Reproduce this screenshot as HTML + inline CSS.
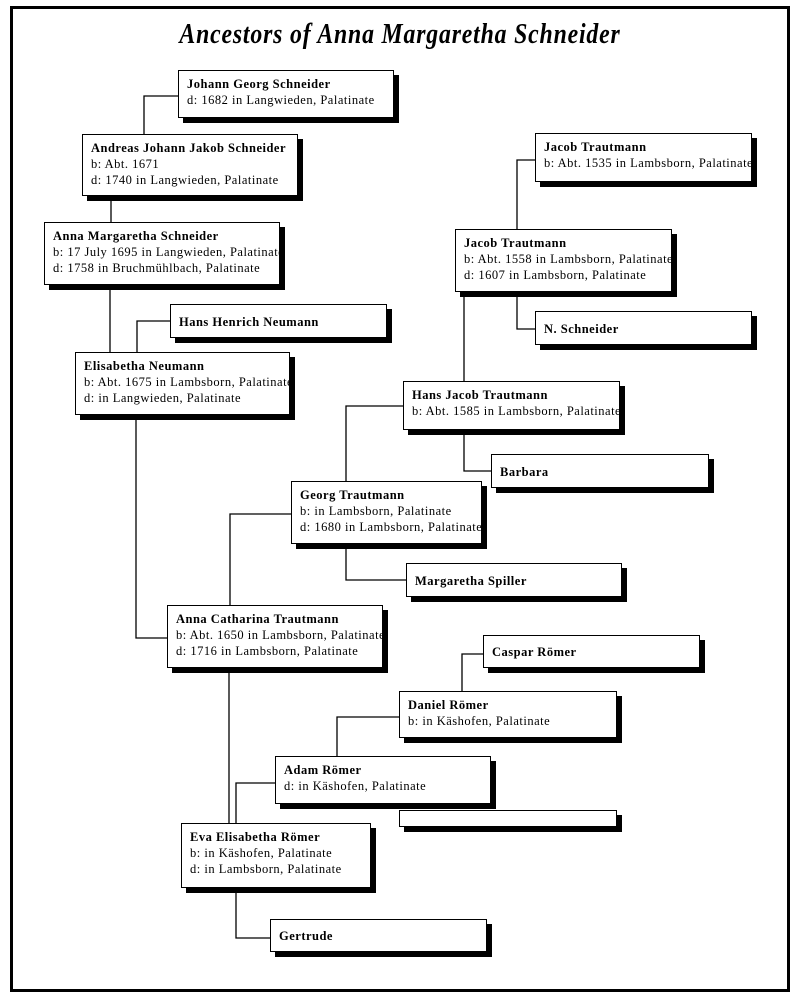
<!DOCTYPE html>
<html><head><meta charset="utf-8"><style>
body{margin:0;width:800px;height:996px;background:#fff;position:relative;overflow:hidden;font-family:"Liberation Serif",serif;}
.frame{position:absolute;left:10px;top:6px;width:774px;height:980px;border:3px solid #000;}
.t{position:absolute;left:0;width:800px;top:18px;text-align:center;font-style:italic;font-weight:bold;font-size:29px;letter-spacing:1px;transform:scaleX(0.82);transform-origin:400px 0;}
.b{position:absolute;border:1.5px solid #000;background:#fff;box-shadow:5px 5px 0 #000;overflow:hidden;box-sizing:border-box;padding:5px 0 0 8px;font-size:12.5px;line-height:16px;letter-spacing:0.5px;white-space:nowrap;}
.b b{letter-spacing:0.5px}
svg{position:absolute;left:0;top:0}
</style></head><body>
<div class="frame"></div>
<div class="t">Ancestors of Anna Margaretha Schneider</div>
<svg width="800" height="996"><g stroke="#000" stroke-width="1.3" fill="none">
<path d="M178 96H144V134"/>
<path d="M111 196V222"/>
<path d="M110 285V352"/>
<path d="M170 321H137V352"/>
<path d="M136 415V638H167"/>
<path d="M535 160H517V229"/>
<path d="M517 292V329H535"/>
<path d="M464 292V381"/>
<path d="M403 406H346V481"/>
<path d="M464 430V471H491"/>
<path d="M291 514H230V605"/>
<path d="M346 544V580H406"/>
<path d="M229 668V823"/>
<path d="M483 654H462V691"/>
<path d="M399 717H337V756"/>
<path d="M275 783H236V823"/>
<path d="M236 888V938H270"/>
</g></svg>
<div class="b" style="left:178px;top:70px;width:216px;height:48px"><b>Johann Georg Schneider</b><br>d: 1682 in Langwieden, Palatinate</div>
<div class="b" style="left:82px;top:134px;width:216px;height:62px"><b>Andreas Johann Jakob Schneider</b><br>b: Abt. 1671<br>d: 1740 in Langwieden, Palatinate</div>
<div class="b" style="left:44px;top:222px;width:236px;height:63px"><b>Anna Margaretha Schneider</b><br>b: 17 July 1695 in Langwieden, Palatinate<br>d: 1758 in Bruchmühlbach, Palatinate</div>
<div class="b" style="left:170px;top:304px;width:217px;height:34px;padding-top:9px"><b>Hans Henrich Neumann</b></div>
<div class="b" style="left:75px;top:352px;width:215px;height:63px"><b>Elisabetha Neumann</b><br>b: Abt. 1675 in Lambsborn, Palatinate<br>d: in Langwieden, Palatinate</div>
<div class="b" style="left:535px;top:133px;width:217px;height:49px"><b>Jacob Trautmann</b><br>b: Abt. 1535 in Lambsborn, Palatinate</div>
<div class="b" style="left:455px;top:229px;width:217px;height:63px"><b>Jacob Trautmann</b><br>b: Abt. 1558 in Lambsborn, Palatinate<br>d: 1607 in Lambsborn, Palatinate</div>
<div class="b" style="left:535px;top:311px;width:217px;height:34px;padding-top:9px"><b>N. Schneider</b></div>
<div class="b" style="left:403px;top:381px;width:217px;height:49px"><b>Hans Jacob Trautmann</b><br>b: Abt. 1585 in Lambsborn, Palatinate</div>
<div class="b" style="left:491px;top:454px;width:218px;height:34px;padding-top:9px"><b>Barbara</b></div>
<div class="b" style="left:291px;top:481px;width:191px;height:63px"><b>Georg Trautmann</b><br>b: in Lambsborn, Palatinate<br>d: 1680 in Lambsborn, Palatinate</div>
<div class="b" style="left:406px;top:563px;width:216px;height:34px;padding-top:9px"><b>Margaretha Spiller</b></div>
<div class="b" style="left:167px;top:605px;width:216px;height:63px"><b>Anna Catharina Trautmann</b><br>b: Abt. 1650 in Lambsborn, Palatinate<br>d: 1716 in Lambsborn, Palatinate</div>
<div class="b" style="left:483px;top:635px;width:217px;height:33px;padding-top:8px"><b>Caspar Römer</b></div>
<div class="b" style="left:399px;top:691px;width:218px;height:47px"><b>Daniel Römer</b><br>b: in Käshofen, Palatinate</div>
<div class="b" style="left:275px;top:756px;width:216px;height:48px"><b>Adam Römer</b><br>d: in Käshofen, Palatinate</div>
<div class="b" style="left:399px;top:810px;width:218px;height:17px;padding:0"></div>
<div class="b" style="left:181px;top:823px;width:190px;height:65px"><b>Eva Elisabetha Römer</b><br>b: in Käshofen, Palatinate<br>d: in Lambsborn, Palatinate</div>
<div class="b" style="left:270px;top:919px;width:217px;height:33px;padding-top:8px"><b>Gertrude</b></div>
</body></html>
